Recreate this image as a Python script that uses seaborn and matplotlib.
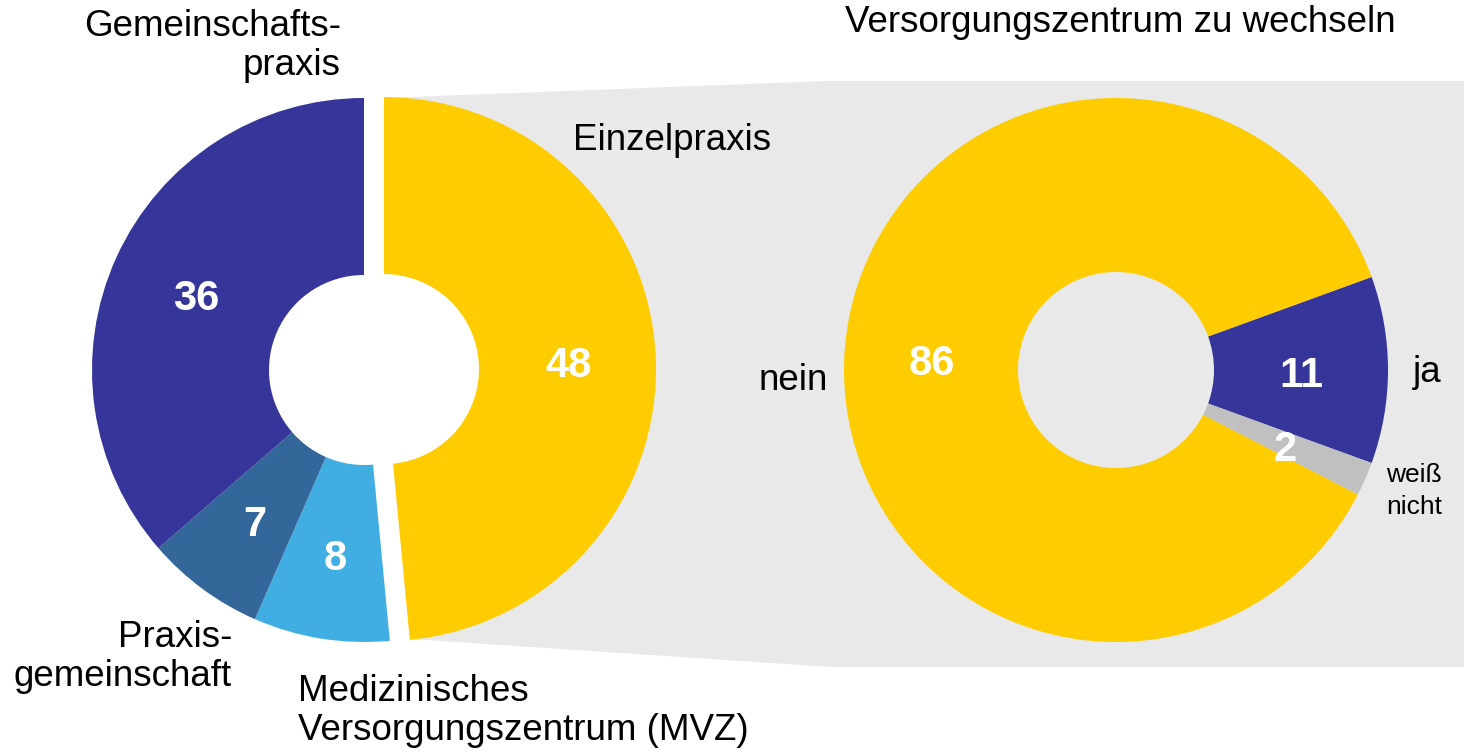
import seaborn as sns
import matplotlib.pyplot as plt
from matplotlib.patches import Polygon, Circle

sns.set_theme(style="white")
plt.rcParams['font.family'] = ['Liberation Sans', 'DejaVu Sans']

# left donut: type of practice
praxis_labels = ["Einzelpraxis", "Medizinisches\nVersorgungszentrum (MVZ)",
                 "Praxis-\ngemeinschaft", "Gemeinschafts-\npraxis"]
praxis_values = [48, 8, 7, 36]
praxis_colors = ["#FFCC00", "#41AEE3", "#336699", "#363599"]

# right donut: switch to a Versorgungszentrum?
wechsel_labels = ["ja", "weiß\nnicht", "nein"]
wechsel_values = [11, 2, 86]
wechsel_colors = ["#363599", "#C0C0C0", "#FFCC00"]

title = "Versorgungszentrum zu wechseln"

W, H = 1464, 754
BG = "#E9E9E9"


def yy(y):
    # picture rows -> axes y (y up)
    return H - y


fig = plt.figure(figsize=(14.64, 7.54), dpi=100)
ax = fig.add_axes([0, 0, 1, 1])

R = 272
# grey band behind the right donut
band = [(385, 98), (825, 81), (W, 81), (W, 667), (830, 667), (410, 639)]
ax.add_patch(Polygon([(x, yy(y)) for x, y in band], closed=True,
                     facecolor=BG, edgecolor="none", zorder=0))
# keep the hole of the left donut white
ax.add_patch(Circle((384, yy(370)), 96, facecolor="white",
                    edgecolor="none", zorder=0.5))


def fmt(values):
    total = sum(values)
    return lambda p: f"{round(p * total / 100):d}"


w1, t1, a1 = ax.pie(praxis_values, colors=praxis_colors, startangle=90,
                    counterclock=False, center=(364, yy(370)), radius=R,
                    explode=[20, 0, 0, 0], autopct=fmt(praxis_values),
                    pctdistance=0.68,
                    wedgeprops=dict(width=R - 95, linewidth=0))

w2, t2, a2 = ax.pie(wechsel_values, colors=wechsel_colors, startangle=20,
                    counterclock=False, center=(1116, yy(370)), radius=R,
                    autopct=fmt(wechsel_values), pctdistance=0.68,
                    wedgeprops=dict(width=R - 98, linewidth=0))

for t in list(a1) + list(a2):
    t.set_color("white")
    t.set_fontsize(30)
    t.set_fontweight("bold")
    x, y = t.get_position()
    t.set_position((x, y - 6))

fs = 26.5
lab = dict(fontsize=fs, color="black", va="center")
ax.text(573, yy(140), praxis_labels[0], ha="left", **lab)
ax.text(298, yy(711), praxis_labels[1], ha="left", linespacing=1.15, **lab)
ax.text(232, yy(657), praxis_labels[2], ha="right", linespacing=1.15, **lab)
ax.text(341, yy(46), praxis_labels[3], ha="right", linespacing=1.15, **lab)

ax.text(1413, yy(372), wechsel_labels[0], ha="left", **lab)
ax.text(1386, yy(491), wechsel_labels[1], ha="left", fontsize=19,
        color="black", va="center", linespacing=1.4)
ax.text(828, yy(380), wechsel_labels[2], ha="right", **lab)

ax.text(845, yy(23), title, ha="left", **lab)

ax.set_xlim(0, W)
ax.set_ylim(0, H)
ax.set_aspect("equal")
ax.axis("off")

fig.savefig("out.png", dpi=100)
